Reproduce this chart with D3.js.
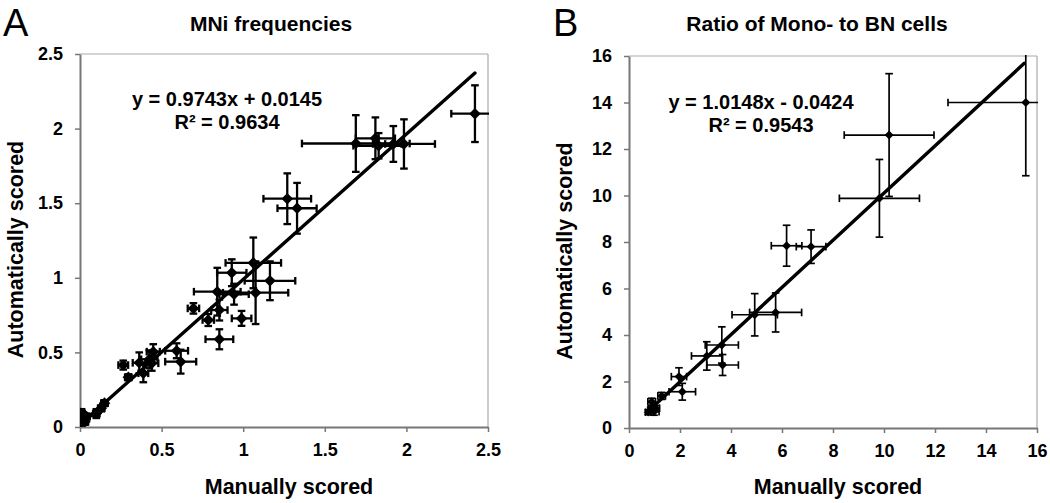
<!DOCTYPE html>
<html><head><meta charset="utf-8">
<script src="https://cdn.jsdelivr.net/npm/d3@7"></script>
<style>
html,body{margin:0;padding:0;background:#fff;}
svg{display:block;}
text{font-family:"Liberation Sans",Arial,sans-serif;}
</style></head>
<body>
<svg id="c" width="1050" height="503"></svg>
<script>
// ---------- Panel A: MNi frequencies ----------
const aManual = [2.42,1.69,1.81,1.83,1.92,1.985,1.27,1.33,1.062,0.93,1.164,0.841,0.944,1.076,0.695,0.854,0.786,0.99,0.854,0.592,0.617,0.449,0.425,0.363,0.388,0.265,0.296,0.44,0.00,0.01,0.04,0.10,0.13,0.15,0.03];
const aAuto   = [2.10,1.90,1.935,1.885,1.897,1.897,1.53,1.466,1.10,1.034,0.98,0.907,0.89,0.90,0.795,0.784,0.717,0.728,0.588,0.511,0.438,0.505,0.454,0.43,0.36,0.415,0.333,0.427,0.025,0.09,0.07,0.09,0.125,0.16,0.035];
const aErrX   = [0.145,0.33,0.12,0.155,0.05,0.19,0.146,0.12,0.17,0.09,0.155,0.143,0.09,0.2,0.035,0.05,0.035,0.06,0.085,0.07,0.095,0.04,0.05,0.04,0.03,0.03,0.02,0.04,0.01,0.02,0.02,0.02,0.02,0.02,0.02];
const aErrY   = [0.19,0.19,0.14,0.085,0.12,0.165,0.17,0.17,0.17,0.09,0.13,0.16,0.07,0.21,0.035,0.07,0.04,0.05,0.067,0.05,0.08,0.05,0.06,0.07,0.06,0.03,0.02,0.05,0.02,0.03,0.02,0.03,0.02,0.02,0.02];
const aTicks  = [0,0.5,1,1.5,2,2.5];
const aFit    = {slope:0.9743, intercept:0.0145, r2:"0.9634", from:0, to:2.42};

// ---------- Panel B: Ratio of Mono- to BN cells ----------
const bManual = [15.56,10.2,9.82,6.18,7.14,5.75,4.93,3.64,3.05,3.67,1.96,2.09,1.28,0.89,0.98,0.75,1.05,0.85];
const bAuto   = [14.0,12.6,9.88,7.84,7.80,4.97,4.87,3.57,3.10,2.71,2.21,1.56,1.38,1.13,0.70,0.68,0.85,0.80];
const bErrX   = [3.05,1.76,1.57,0.6,0.58,1.02,0.89,0.65,0.6,0.62,0.3,0.52,0.15,0.15,0.2,0.1,0.15,0.1];
const bErrY   = [3.15,2.64,1.67,0.88,0.72,0.84,0.91,0.78,0.61,0.45,0.38,0.36,0.15,0.15,0.15,0.1,0.12,0.1];
const bTicks  = [0,2,4,6,8,10,12,14,16];
const bFit    = {slope:1.0148, intercept:-0.0424, r2:"0.9543", from:0.75, to:15.5};

const svg = d3.select("#c");

function panel(cfg){
  const {id,letter,title,xs,ys,ex,ey,ticks,fit,box,eqText,eqX,eqY,mk,cap,ew,lw,lx,ly,letterX,titleX} = cfg;
  const x = d3.scaleLinear().domain([ticks[0],ticks[ticks.length-1]]).range([box.l,box.r]);
  const y = d3.scaleLinear().domain([ticks[0],ticks[ticks.length-1]]).range([box.b,box.t]);
  const g = svg.append("g");

  // frame (top & right light)
  g.append("line").attr("x1",box.l).attr("x2",box.r).attr("y1",box.t).attr("y2",box.t).attr("stroke","#aaa").attr("stroke-width",1.2);
  g.append("line").attr("x1",box.r).attr("x2",box.r).attr("y1",box.t).attr("y2",box.b).attr("stroke","#aaa").attr("stroke-width",1.2);

  const fmt = d=>String(d);
  const xa = g.append("g").attr("transform",`translate(0,${box.b})`)
    .call(d3.axisBottom(x).tickValues(ticks).tickFormat(fmt).tickSize(5).tickSizeOuter(0).tickPadding(11));
  const ya = g.append("g").attr("transform",`translate(${box.l},0)`)
    .call(d3.axisLeft(y).tickValues(ticks).tickFormat(fmt).tickSize(5).tickSizeOuter(0).tickPadding(12));
  [xa,ya].forEach(a=>{
    a.select(".domain").attr("stroke","#777").attr("stroke-width",2);
    a.selectAll(".tick line").attr("stroke","#777").attr("stroke-width",1.5);
    a.selectAll(".tick text").attr("fill","#000").style("font-size","18px").style("font-weight","bold")
      .style("font-family",'"Liberation Sans",Arial,sans-serif');
  });

  // clip
  svg.append("clipPath").attr("id","clip"+id).append("rect")
    .attr("x",box.l).attr("y",box.t-1).attr("width",box.r-box.l+1).attr("height",box.b-box.t+1);
  const pg = g.append("g").attr("clip-path",`url(#clip${id})`);

  // regression line
  pg.append("line")
    .attr("x1",x(fit.from)).attr("y1",y(fit.slope*fit.from+fit.intercept))
    .attr("x2",x(fit.to)).attr("y2",y(fit.slope*fit.to+fit.intercept))
    .attr("stroke","#000").attr("stroke-width",lw).attr("stroke-linecap","round");

  const data = xs.map((v,i)=>({x:v,y:ys[i],ex:ex[i],ey:ey[i]}));
  const eg = pg.append("g").attr("stroke","#000").attr("stroke-width",ew).attr("fill","none");
  data.forEach(d=>{
    const cx=x(d.x), cy=y(d.y);
    const x0=x(d.x-d.ex), x1=x(d.x+d.ex), y0=y(d.y-d.ey), y1=y(d.y+d.ey);
    eg.append("line").attr("x1",x0).attr("x2",x1).attr("y1",cy).attr("y2",cy);
    eg.append("line").attr("x1",x0).attr("x2",x0).attr("y1",cy-cap).attr("y2",cy+cap);
    eg.append("line").attr("x1",x1).attr("x2",x1).attr("y1",cy-cap).attr("y2",cy+cap);
    eg.append("line").attr("x1",cx).attr("x2",cx).attr("y1",y0).attr("y2",y1);
    eg.append("line").attr("x1",cx-cap).attr("x2",cx+cap).attr("y1",y0).attr("y2",y0);
    eg.append("line").attr("x1",cx-cap).attr("x2",cx+cap).attr("y1",y1).attr("y2",y1);
  });
  pg.selectAll("path.pt").data(data).join("path").attr("class","pt")
    .attr("d",d3.symbol(d3.symbolDiamond2, mk))
    .attr("transform",d=>`translate(${x(d.x)},${y(d.y)})`)
    .attr("fill","#000");

  // equation
  const eq = g.append("g").style("font-size","20px").style("font-weight","bold").attr("text-anchor","middle");
  eq.append("text").attr("x",eqX).attr("y",eqY).text(eqText);
  eq.append("text").attr("x",eqX).attr("y",eqY+23).text("R² = "+fit.r2);

  // titles & labels
  g.append("text").attr("x",titleX).attr("y",31).attr("text-anchor","middle")
    .style("font-size","21px").style("font-weight","bold").text(title);
  g.append("text").attr("x",lx).attr("y",494).attr("text-anchor","middle")
    .style("font-size","21.5px").style("font-weight","bold").text("Manually scored");
  g.append("text").attr("transform",`translate(${ly},${(box.t+box.b)/2+9}) rotate(-90)`).attr("text-anchor","middle")
    .style("font-size","21.5px").style("font-weight","bold").text("Automatically scored");
  g.append("text").attr("x",letterX).attr("y",36)
    .style("font-size","38px").style("font-weight","400").text(letter);
}

panel({id:"A",letter:"A",title:"MNi frequencies",xs:aManual,ys:aAuto,ex:aErrX,ey:aErrY,ticks:aTicks,fit:aFit,
  box:{l:80,r:488,t:54,b:427},eqText:"y = 0.9743x + 0.0145",eqX:227,eqY:106,mk:85,cap:3.8,ew:2.3,lw:3.4,
  lx:289,ly:23,letterX:3,titleX:271});
panel({id:"B",letter:"B",title:"Ratio of Mono- to BN cells",xs:bManual,ys:bAuto,ex:bErrX,ey:bErrY,ticks:bTicks,fit:bFit,
  box:{l:629,r:1037,t:56,b:428},eqText:"y = 1.0148x - 0.0424",eqX:761,eqY:109,mk:50,cap:3.8,ew:1.7,lw:3.4,
  lx:838,ly:572,letterX:553,titleX:817});
</script>
</body></html>
